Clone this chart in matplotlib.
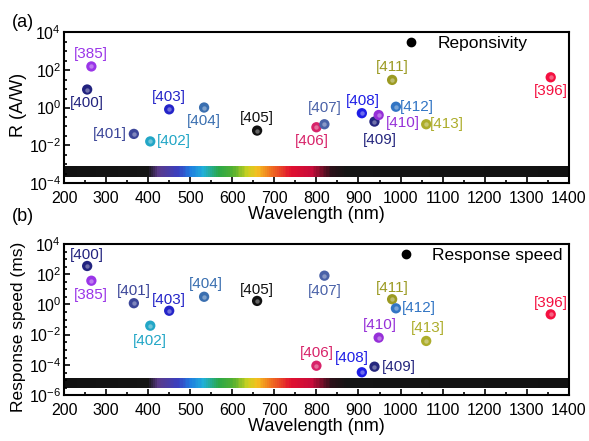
import numpy as np
import matplotlib
matplotlib.use("Agg")
import matplotlib.pyplot as plt
from matplotlib.colors import LinearSegmentedColormap
from matplotlib.lines import Line2D
from matplotlib.ticker import FixedLocator, NullFormatter, MultipleLocator

plt.rcParams['font.family'] = ['Liberation Sans', 'DejaVu Sans']

# --- data ---
refs = ["385", "400", "401", "402", "403", "404", "405", "406",
        "407", "408", "409", "410", "411", "412", "413", "396"]
wl = [265, 255, 366, 405, 450, 533, 659, 800,
      819, 908, 938, 948, 980, 989, 1061, 1357]
resp = [150, 9, 0.04, 0.016, 0.8, 1.0, 0.06, 0.09,
        0.13, 0.5, 0.18, 0.4, 29, 1.1, 0.13, 40]
speed = [37, 350, 1.2, 0.039, 0.38, 3.2, 1.7, 8.7e-5,
         80, 3.2e-5, 7.5e-5, 0.0063, 2.2, 0.55, 0.0038, 0.22]
colors = ["#9a35e8", "#22237f", "#3c4699", "#22a6c6", "#2424c8", "#3a6fb0",
          "#111111", "#d8246a", "#4a62a8", "#1e1ee6", "#25277e", "#9630d8",
          "#9b9a22", "#3275c4", "#adad2c", "#f41040"]

# label offsets (points) and alignment for each panel
lab_a = {"385": (0, 9, "center"), "400": (0, -10, "center"), "401": (-5, 0, "right"),
         "402": (5, 0, "left"), "403": (0, 9, "center"), "404": (0, -10, "center"),
         "405": (0, 9, "center"), "406": (-3, -10, "center"), "407": (0, 12, "center"),
         "408": (1, 9, "center"), "409": (4, -13, "center"), "410": (5, -6, "left"),
         "411": (0, 9, "center"), "412": (3, 0, "left"), "413": (3, 0, "left"),
         "396": (0, -10, "center")}
lab_b = {"385": (0, -10, "center"), "400": (0, 8, "center"), "401": (0, 9, "center"),
         "402": (0, -11, "center"), "403": (0, 8, "center"), "404": (1, 9, "center"),
         "405": (0, 8, "center"), "406": (0, 9, "center"), "407": (0, -11, "center"),
         "408": (-7, 10, "center"), "409": (5, 0, "left"), "410": (1, 9, "center"),
         "411": (0, 8, "center"), "412": (4, 0, "left"), "413": (1, 9, "center"),
         "396": (0, 8, "center")}

# visible spectrum strip
spec_cmap = LinearSegmentedColormap.from_list("spec", [
    (0.0, "#111111"), (0.165, "#151515"), (0.185, "#5a3a8a"), (0.225, "#3a3fc0"),
    (0.25, "#1f7fe0"), (0.275, "#20b0d8"), (0.305, "#2aa84a"), (0.335, "#55b030"),
    (0.362, "#c8d020"), (0.382, "#f4c020"), (0.41, "#f07020"), (0.45, "#e01030"),
    (0.49, "#c80c3a"), (0.53, "#2a1018"), (0.56, "#151515"), (1.0, "#111111")])

fig = plt.figure(figsize=(5.89, 4.41), dpi=100)
ax1 = fig.add_axes([0.1087, 0.585, 0.857, 0.3424])
ax2 = fig.add_axes([0.1087, 0.1043, 0.857, 0.3424])


def style(ax, elo, ehi, band):
    ax.set_xlim(200, 1400)
    ax.set_yscale("log")
    ax.set_ylim(10.0 ** elo, 10.0 ** ehi)
    ax.xaxis.set_major_locator(MultipleLocator(100))
    ax.xaxis.set_minor_locator(MultipleLocator(50))
    ax.yaxis.set_major_locator(FixedLocator(10.0 ** np.arange(elo, ehi + 1, 2)))
    minors = [m * 10.0 ** e for e in range(elo, ehi) for m in (1, 3)]
    ax.yaxis.set_minor_locator(FixedLocator(minors))
    ax.yaxis.set_minor_formatter(NullFormatter())
    ax.tick_params(which="both", direction="in", labelsize=11.5, width=1.2)
    ax.tick_params(which="major", length=4)
    ax.tick_params(which="minor", length=2.5)
    ax.tick_params(axis="y", pad=2)
    ax.tick_params(axis="x", pad=6)
    for s in ax.spines.values():
        s.set_linewidth(1.5)
    xs = np.linspace(200, 1400, 600)
    z = np.linspace(0, 1, 600)[None, :]
    ax.pcolormesh(xs, band, z[:, :-1], cmap=spec_cmap, shading="flat", zorder=1)
    ax.set_xlabel("Wavelength (nm)", fontsize=13, labelpad=0)


def draw(ax, yvals, labs):
    ax.scatter(wl, yvals, s=55, c=colors, zorder=3, linewidths=0)
    ax.scatter(wl, yvals, s=10, c="white", alpha=0.35, zorder=4, linewidths=0)
    for r, x, y, c in zip(refs, wl, yvals, colors):
        dx, dy, ha = labs[r]
        ax.annotate("[" + r + "]", (x, y), xytext=(dx, dy), textcoords="offset points",
                    ha=ha, va="center", color=c, fontsize=11, zorder=5)


style(ax1, -4, 4, [2.1e-4, 8e-4])
draw(ax1, resp, lab_a)
ax1.set_ylabel("R (A/W)", fontsize=13)
ax1.yaxis.set_label_coords(-0.073, 0.52)

style(ax2, -6, 4, [2.8e-6, 1.35e-5])
draw(ax2, speed, lab_b)
ax2.set_ylabel("Response speed (ms)", fontsize=12.5)
ax2.yaxis.set_label_coords(-0.075, 0.45)

h = [Line2D([], [], marker="o", ls="none", color="black", markersize=6)]
ax1.legend(h, ["Reponsivity"], loc="upper left", bbox_to_anchor=(0.64, 1.02),
           frameon=False, fontsize=12.5, handletextpad=0.5, borderaxespad=0)
ax2.legend(h, ["Response speed"], loc="upper left", bbox_to_anchor=(0.63, 1.02),
           frameon=False, fontsize=12.5, handletextpad=0.5, borderaxespad=0)

fig.text(0.02, 0.948, "(a)", fontsize=13, va="center")
fig.text(0.02, 0.51, "(b)", fontsize=13, va="center")

fig.savefig("out.png", dpi=100)
